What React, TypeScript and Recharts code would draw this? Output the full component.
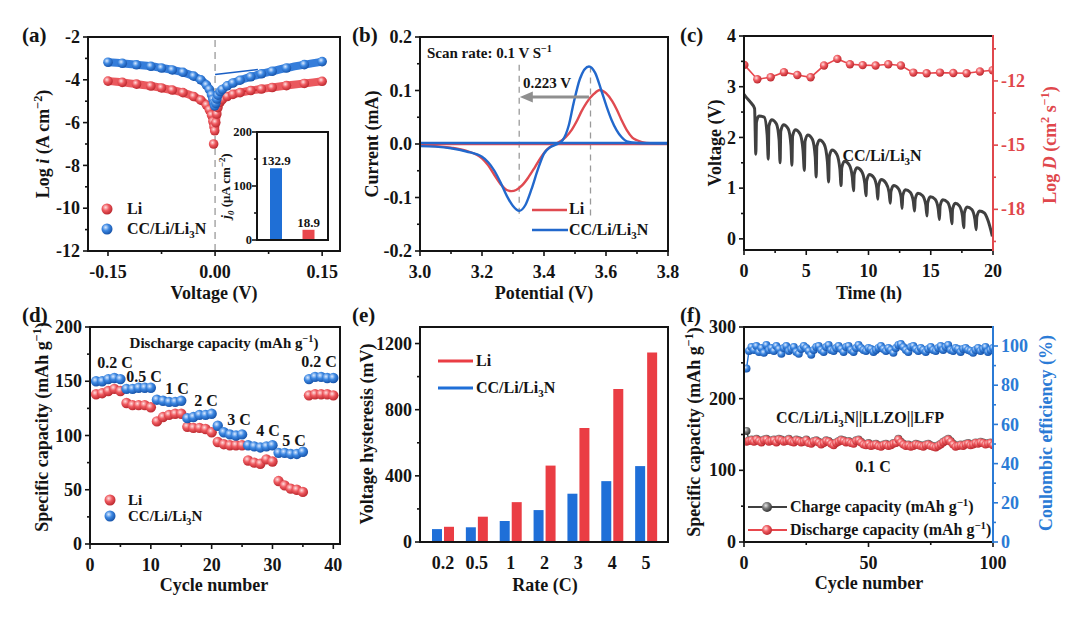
import React from 'react';
import { ComposedChart, BarChart, Bar, Cell, Line, Scatter, XAxis, YAxis, ReferenceLine, LabelList } from 'recharts';

const FONT = "'Liberation Serif','Times New Roman',Times,serif";
const AX = '#141414';
const RED = '#e8474d';
const BLUE = '#1f6fd6';
const CV_RED = '#e04a50';
const CV_BLUE = '#2268cc';
const GRAY = '#404040';
const RED_AX = '#e0474c';
const BLUE_AX = '#2b7bd6';
const TFS = 18;

// ---------------- data ----------------
// (a) Tafel plots [V, log i]
const tafelLi = [[-0.15,-4.06],[-0.13,-4.12],[-0.11,-4.2],[-0.09,-4.29],[-0.075,-4.38],[-0.06,-4.48],[-0.045,-4.6],[-0.03,-4.78],[-0.02,-4.95],[-0.012,-5.18],[-0.008,-5.4],[-0.005,-5.65],[-0.003,-5.95],[-0.0015,-6.2],[-0.0005,-6.38],[0.001,-6.0],[0.0025,-5.6],[0.004,-5.3],[0.007,-5.05],[0.01,-4.93],[0.017,-4.78],[0.025,-4.68],[0.035,-4.6],[0.05,-4.5],[0.065,-4.43],[0.08,-4.36],[0.1,-4.27],[0.125,-4.17],[0.15,-4.07]];
const tafelLiOutlier = [[-0.002,-7.0]];
const tafelCC = [[-0.15,-3.18],[-0.13,-3.23],[-0.11,-3.3],[-0.09,-3.37],[-0.075,-3.45],[-0.06,-3.54],[-0.045,-3.65],[-0.03,-3.83],[-0.02,-4.0],[-0.012,-4.25],[-0.008,-4.45],[-0.005,-4.7],[-0.003,-4.92],[-0.0015,-5.1],[-0.0005,-5.22],[0.001,-5.1],[0.0025,-4.9],[0.004,-4.72],[0.007,-4.55],[0.01,-4.45],[0.017,-4.28],[0.025,-4.15],[0.035,-4.02],[0.05,-3.86],[0.065,-3.72],[0.08,-3.6],[0.1,-3.45],[0.125,-3.29],[0.15,-3.15]];
const tafelFitLi = [[0,-4.68],[0.06,-4.47]];
const tafelFitCC = [[0,-3.75],[0.06,-3.52]];
const aXTicks = [-0.15,-0.075,0,0.075,0.15];
const aXLabels = ['-0.15','','0.00','','0.15'];
const aYTicks = [-12,-11,-10,-9,-8,-7,-6,-5,-4,-3,-2];
const aYLabels = ['-12','','-10','','-8','','-6','','-4','','-2'];
// (a) inset: exchange current density
const j0Names = ['CC/Li/Li3N','Li'];
const j0Values = [132.9, 18.9];
const insetTicks = [0,50,100,150,200];
const insetLabels = ['0','','100','','200'];

// (b) CV curves [V, mA]
const cvLi = [[3.0,-0.003],[3.05,-0.004],[3.1,-0.007],[3.15,-0.013],[3.2,-0.027],[3.22,-0.04],[3.24,-0.058],[3.26,-0.075],[3.28,-0.086],[3.295,-0.088],[3.31,-0.086],[3.33,-0.077],[3.35,-0.062],[3.37,-0.044],[3.39,-0.025],[3.41,-0.01],[3.43,-0.002],[3.45,0.004],[3.47,0.013],[3.49,0.027],[3.505,0.042],[3.52,0.06],[3.537,0.077],[3.56,0.093],[3.58,0.101],[3.6,0.095],[3.62,0.08],[3.635,0.064],[3.65,0.045],[3.667,0.026],[3.685,0.012],[3.7,0.007],[3.73,0.002],[3.8,0.001]];
const cvCC = [[3.0,-0.004],[3.05,-0.005],[3.1,-0.008],[3.15,-0.014],[3.2,-0.024],[3.22,-0.034],[3.24,-0.05],[3.26,-0.072],[3.28,-0.097],[3.3,-0.116],[3.32,-0.125],[3.34,-0.114],[3.36,-0.084],[3.38,-0.048],[3.4,-0.018],[3.42,-0.006],[3.44,-0.001],[3.46,0.007],[3.48,0.035],[3.495,0.075],[3.516,0.122],[3.545,0.145],[3.565,0.133],[3.585,0.1],[3.602,0.07],[3.618,0.045],[3.634,0.026],[3.65,0.013],[3.667,0.005],[3.7,0.002],[3.8,0.001]];
const cvBaseLi = [[3.0,0.0],[3.8,0.0]];
const cvBaseCC = [[3.0,0.002],[3.8,0.002]];
const bXTicks = [3.0,3.1,3.2,3.3,3.4,3.5,3.6,3.7,3.8];
const bXLabels = ['3.0','','3.2','','3.4','','3.6','','3.8'];
const bYTicks = [-0.2,-0.15,-0.1,-0.05,0,0.05,0.1,0.15,0.2];
const bYLabels = ['-0.2','','-0.1','','0.0','','0.1','','0.2'];

// (c) GITT voltage [h, V] and log D [h, log D]
const gittV = [[0,2.85],[0.15,2.8],[0.5,2.7],[0.85,2.57],
[0.95,1.67],[1.0,2.3],[1.2,2.42],[1.62,2.4],[1.86,2.05],
[1.95,1.57],[2.0,2.22],[2.22,2.35],[2.6,2.27],[2.82,1.95],
[2.9,1.5],[2.95,2.12],[3.17,2.25],[3.55,2.17],[3.77,1.85],
[3.85,1.45],[3.9,2.02],[4.12,2.15],[4.5,2.07],[4.74,1.75],
[4.85,1.35],[4.9,1.92],[5.12,2.05],[5.5,1.96],[5.72,1.62],
[5.8,1.22],[5.85,1.82],[6.07,1.95],[6.45,1.86],[6.7,1.52],
[6.8,1.12],[6.85,1.62],[7.07,1.75],[7.45,1.67],[7.7,1.38],
[7.8,1.05],[7.85,1.4],[8.07,1.53],[8.45,1.46],[8.7,1.22],
[8.8,0.95],[8.85,1.27],[9.07,1.4],[9.45,1.33],[9.7,1.1],
[9.8,0.85],[9.85,1.14],[10.07,1.27],[10.45,1.2],[10.67,1.0],
[10.75,0.78],[10.8,1.04],[11.02,1.17],[11.4,1.1],[11.65,0.92],
[11.75,0.7],[11.8,0.93],[12.02,1.05],[12.4,0.99],[12.62,0.82],
[12.7,0.6],[12.75,0.85],[12.97,0.97],[13.35,0.92],[13.6,0.74],
[13.7,0.55],[13.75,0.78],[13.97,0.9],[14.35,0.85],[14.6,0.67],
[14.7,0.45],[14.75,0.71],[14.97,0.83],[15.35,0.78],[15.6,0.59],
[15.7,0.38],[15.75,0.65],[15.97,0.77],[16.35,0.72],[16.6,0.52],
[16.7,0.3],[16.75,0.58],[16.97,0.7],[17.3,0.65],[17.55,0.45],
[17.65,0.22],[17.7,0.51],[17.92,0.63],[18.3,0.58],[18.55,0.38],
[18.65,0.18],[18.7,0.43],[18.92,0.55],[19.3,0.51],[19.6,0.36],[19.95,0.05]];
const gittLogD = [[0.03,-11.25],[1.07,-11.92],[2.14,-11.83],[3.21,-11.59],[4.28,-11.72],[5.35,-11.83],[6.43,-11.28],[7.5,-10.97],[8.51,-11.22],[9.53,-11.26],[10.57,-11.28],[11.59,-11.22],[12.6,-11.28],[13.6,-11.61],[14.67,-11.64],[15.74,-11.61],[16.81,-11.63],[17.88,-11.64],[18.95,-11.56],[19.97,-11.5]];
const cXTicks = [0,2.5,5,7.5,10,12.5,15,17.5,20];
const cXLabels = ['0','','5','','10','','15','','20'];
const cYTicks = [0,0.5,1,1.5,2,2.5,3,3.5,4];
const cYLabels = ['0','','1','','2','','3','','4'];
const cY2Ticks = [-19.5,-18,-16.5,-15,-13.5,-12,-10.5];
const cY2Labels = ['','-18','','-15','','-12',''];

// (d) rate capability (cycle 1-40)
const rateCycles = [1,2,3,4,5,6,7,8,9,10,11,12,13,14,15,16,17,18,19,20,21,22,23,24,25,26,27,28,29,30,31,32,33,34,35,36,37,38,39,40];
const rateLi = [138,139,141,143,141,130,128,128,128,126,113,117,119,120,120,108,107,107,106,103,94,92,91,91,91,77,75,74,78,76,58,54,51,50,48,137,138,138,138,137];
const rateCC = [150,150,152,153,152,143,143,144,144,144,133,132,131,131,132,116,117,119,119,120,109,103,101,100,101,91,90,89,90,91,84,84,83,83,85,152,154,154,153,153];
const rateLabels = ['0.2 C','0.5 C','1 C','2 C','3 C','4 C','5 C','0.2 C'];
const dXTicks = [0,5,10,15,20,25,30,35,40];
const dXLabels = ['0','','10','','20','','30','','40'];
const dYTicks = [0,25,50,75,100,125,150,175,200];
const dYLabels = ['0','','50','','100','','150','','200'];

// (e) voltage hysteresis (mV)
const rates = ['0.2','0.5','1','2','3','4','5'];
const hystCC = [78,89,127,193,292,368,459];
const hystLi = [92,153,241,462,689,925,1146];
const eYTicks = [0,200,400,600,800,1000,1200];
const eYLabels = ['0','','400','','800','','1200'];

// (f) long cycling 0.1 C (cycle 1-100)
const chargeCap = [155,142,143,141,144,142,140,143,144,141,142,143,140,144,143,141,142,144,141,140,143,142,140,141,143,139,138,141,142,140,137,139,142,141,138,136,139,141,143,142,140,141,139,138,142,143,140,137,136,138,135,136,137,135,134,136,137,135,136,138,139,144,140,137,135,136,134,135,137,136,135,134,136,137,135,134,133,135,137,140,142,144,141,137,134,135,136,135,137,138,136,137,139,138,140,139,137,138,139,136];
const dischargeCap = [140,141,142,140,143,141,139,142,143,140,141,142,139,143,142,140,141,143,140,139,142,141,139,140,142,138,137,140,141,139,136,138,141,140,137,135,138,140,142,141,139,140,138,137,141,142,139,136,135,137,134,135,136,134,133,135,136,134,135,137,138,143,139,136,134,135,133,134,136,135,134,133,135,136,134,133,132,134,136,139,141,143,140,136,133,134,135,134,136,137,135,136,138,137,139,138,136,137,138,135];
const coulombicEff = [88.5,97.5,99.5,98,100,97,99,96.5,100.5,98,99,97.5,100,98.5,96,99,100,97.5,98.5,99.5,97,96,98.5,100,99,97.5,95.5,98,99.5,100,98,97,99.5,100.5,98,97.5,99,100,98.5,97,99.5,100,98,97,99,100.5,99,98,97.5,99,98.5,97,98,99,100,98.5,97.5,99,98,96.5,99,100.5,101,99.5,98,97,99.5,100,98.5,97.5,99,98,97,98.5,99.5,98,97.5,99,100,98,99.5,100.5,98,97.5,99,98.5,97,98.5,99,98,97.5,96.5,98,99,97.5,98.5,99.5,97,98,99];
const fXTicks = [0,25,50,75,100];
const fXLabels = ['0','','50','','100'];
const fYTicks = [0,50,100,150,200,250,300];
const fYLabels = ['0','','100','','200','','300'];
const fY2Ticks = [0,10,20,30,40,50,60,70,80,90,100];
const fY2Labels = ['0','','20','','40','','60','','80','','100'];

// ---------------- helpers ----------------
const xy = (arr: number[][]) => arr.map(([x, y]) => ({ x, y }));

type Rc = { L: number; T: number; R: number; B: number };
const RA: Rc = { L: 88, T: 37, R: 340, B: 251 };
const RI: Rc = { L: 257, T: 132, R: 328, B: 240 };
const RB: Rc = { L: 420, T: 37, R: 668, B: 251 };
const RC: Rc = { L: 744, T: 36, R: 993, B: 250 };
const RD: Rc = { L: 90, T: 327, R: 340, B: 544 };
const RE: Rc = { L: 420, T: 327, R: 668, B: 542 };
const RF: Rc = { L: 744, T: 327, R: 993, B: 542 };

const LS = 60, TS = 10, BS = 40, RS = 12, RAX = 60;

function place(r: Rc, rightAxis: boolean) {
  const right = rightAxis ? RAX : RS;
  return {
    style: { position: 'absolute' as const, left: r.L - LS, top: r.T - TS },
    width: LS + (r.R - r.L) + right,
    height: TS + (r.B - r.T) + BS,
    margin: { top: TS, right: rightAxis ? 0 : RS, bottom: 0, left: 0 },
  };
}

function makeTick(side: string, ticks: number[] | null, labels: string[] | null, color = AX, fs = TFS, noLine = false, gap = 8) {
  return (p: any) => {
    const { x, y, payload } = p;
    let lab = String(payload.value);
    if (ticks && labels) {
      const i = ticks.findIndex((t) => Math.abs(t - Number(payload.value)) < 1e-6);
      lab = i >= 0 ? labels[i] : '';
    }
    const major = lab !== '';
    const len = major ? 5 : 3;
    const tp = { fontFamily: FONT, fontWeight: 700, fontSize: fs, fill: color };
    if (side === 'left') {
      return (
        <g>
          {!noLine && <line x1={x} y1={y} x2={x - len} y2={y} stroke={color} strokeWidth={1.6} />}
          {major && <text x={x - gap} y={y + fs * 0.34} textAnchor="end" {...tp}>{lab}</text>}
        </g>
      );
    }
    if (side === 'right') {
      return (
        <g>
          {!noLine && <line x1={x} y1={y} x2={x + len} y2={y} stroke={color} strokeWidth={1.6} />}
          {major && <text x={x + gap} y={y + fs * 0.34} textAnchor="start" {...tp}>{lab}</text>}
        </g>
      );
    }
    return (
      <g>
        {!noLine && <line x1={x} y1={y} x2={x} y2={y + len} stroke={color} strokeWidth={1.6} />}
        {major && <text x={x} y={y + 21 + fs * 0.34} textAnchor="middle" {...tp}>{lab}</text>}
      </g>
    );
  };
}

const sphereDot = (grad: string, r: number) => (p: any) => {
  if (p.cx == null || p.cy == null) return <g key={p.index} />;
  return <circle key={`d${p.index}`} cx={p.cx} cy={p.cy} r={r} fill={`url(#${grad})`} />;
};
const sphereShape = (grad: string, r: number) => (p: any) => <circle cx={p.cx} cy={p.cy} r={r} fill={`url(#${grad})`} />;

const arrowShape = (p: any) => {
  const { x1, y1, x2, y2 } = p;
  const hx = Math.min(x1, x2);
  const tx = Math.max(x1, x2);
  const y = (y1 + y2) / 2;
  const c = '#8f8f8f';
  return (
    <g>
      <line x1={tx} y1={y} x2={hx + 10} y2={y} stroke={c} strokeWidth={3} />
      <polygon points={`${hx},${y} ${hx + 13},${y - 5.5} ${hx + 13},${y + 5.5}`} fill={c} />
    </g>
  );
};

type Seg = { t: string; sub?: boolean; sup?: boolean; it?: boolean };
const n = (t: string): Seg => ({ t });
const sb = (t: string, itl = false): Seg => ({ t, sub: true, it: itl });
const sp = (t: string): Seg => ({ t, sup: true });
const it = (t: string): Seg => ({ t, it: true });

function Rich({ x, y, segs, size, anchor = 'start', rot = 0, fill = AX }: any) {
  const off = (lv: number) => (lv === 1 ? 0.24 * size : lv === -1 ? -0.4 * size : 0);
  let level = 0;
  const parts = segs.map((s: Seg, i: number) => {
    const target = s.sub ? 1 : s.sup ? -1 : 0;
    const dy = off(target) - off(level);
    level = target;
    return (
      <tspan key={i} dy={dy} fontSize={target ? size * 0.68 : size} fontStyle={s.it ? 'italic' : 'normal'}>
        {s.t}
      </tspan>
    );
  });
  return (
    <text transform={`translate(${x},${y}) rotate(${rot})`} x={0} y={size * 0.34} textAnchor={anchor}
      fontFamily={FONT} fontWeight={700} fontSize={size} fill={fill}>
      {parts}
    </text>
  );
}

const LI3N = [n('CC/Li/Li'), sb('3'), n('N')];
const CAP = [n('Specific capacity (mAh g'), sp('−1'), n(')')];

const axisLine = (c = AX) => ({ stroke: c, strokeWidth: 2 });

// ---------------- panels ----------------
function PanelA() {
  const g = place(RA, false);
  return (
    <div style={g.style}>
      <ComposedChart width={g.width} height={g.height} margin={g.margin}>
        <XAxis type="number" dataKey="x" domain={[-0.178, 0.175]} allowDataOverflow ticks={aXTicks} interval={0}
          tick={makeTick('bottom', aXTicks, aXLabels)} tickSize={0} tickMargin={0} tickLine={false}
          axisLine={axisLine()} height={BS} />
        <YAxis type="number" dataKey="y" domain={[-12, -2]} allowDataOverflow ticks={aYTicks} interval={0}
          tick={makeTick('left', aYTicks, aYLabels)} tickSize={0} tickMargin={0} tickLine={false}
          axisLine={axisLine()} width={LS} />
        <ReferenceLine x={0} stroke="#9a9a9a" strokeWidth={1.3} strokeDasharray="7 5" />
        <Line data={xy(tafelLi)} dataKey="y" type="monotone" stroke={RED} strokeWidth={8} strokeOpacity={0.9}
          dot={sphereDot('gRed', 4.8)} activeDot={false} isAnimationActive={false} />
        <Line data={xy(tafelCC)} dataKey="y" type="monotone" stroke={BLUE} strokeWidth={8} strokeOpacity={0.9}
          dot={sphereDot('gBlue', 4.8)} activeDot={false} isAnimationActive={false} />
        <Scatter data={xy(tafelLiOutlier)} dataKey="y" shape={sphereShape('gRed', 4.8)} isAnimationActive={false} />
        <Line data={xy(tafelFitLi)} dataKey="y" type="linear" stroke="#d8262e" strokeWidth={1.6} dot={false}
          activeDot={false} isAnimationActive={false} />
        <Line data={xy(tafelFitCC)} dataKey="y" type="linear" stroke="#1a5fc4" strokeWidth={1.6} dot={false}
          activeDot={false} isAnimationActive={false} />
      </ComposedChart>
    </div>
  );
}

function Inset() {
  const IL = 30, IT = 8, IB = 12;
  const data = j0Names.map((name, i) => ({ name, v: j0Values[i] }));
  return (
    <div style={{ position: 'absolute', left: RI.L - IL, top: RI.T - IT }}>
      <BarChart width={IL + RI.R - RI.L + 2} height={IT + RI.B - RI.T + IB} data={data}
        margin={{ top: IT, right: 2, bottom: IB, left: 0 }} barSize={12}>
        <XAxis dataKey="name" type="category" hide padding={{ left: 3, right: 3 }} />
        <YAxis type="number" domain={[0, 200]} ticks={insetTicks} interval={0} width={IL}
          tick={makeTick('left', insetTicks, insetLabels, AX, 12.5, false, 5)} tickSize={0} tickMargin={0}
          tickLine={false} axisLine={axisLine()} />
        <Bar dataKey="v" isAnimationActive={false}>
          <Cell fill={BLUE} />
          <Cell fill={RED} />
          <LabelList dataKey="v" position="top" offset={3} formatter={(v: any) => Number(v).toFixed(1)}
            style={{ fontFamily: FONT, fontWeight: 700, fontSize: 13, fill: AX }} />
        </Bar>
      </BarChart>
    </div>
  );
}

function PanelB() {
  const g = place(RB, false);
  return (
    <div style={g.style}>
      <ComposedChart width={g.width} height={g.height} margin={g.margin}>
        <XAxis type="number" dataKey="x" domain={[3.0, 3.8]} allowDataOverflow ticks={bXTicks} interval={0}
          tick={makeTick('bottom', bXTicks, bXLabels)} tickSize={0} tickMargin={0} tickLine={false}
          axisLine={axisLine()} height={BS} />
        <YAxis type="number" dataKey="y" domain={[-0.2, 0.2]} allowDataOverflow ticks={bYTicks} interval={0}
          tick={makeTick('left', bYTicks, bYLabels)} tickSize={0} tickMargin={0} tickLine={false}
          axisLine={axisLine()} width={LS} />
        <ReferenceLine segment={[{ x: 3.32, y: 0.148 }, { x: 3.32, y: -0.14 }]} stroke="#9a9a9a" strokeWidth={1.3} strokeDasharray="6 5" />
        <ReferenceLine segment={[{ x: 3.55, y: 0.145 }, { x: 3.55, y: -0.14 }]} stroke="#9a9a9a" strokeWidth={1.3} strokeDasharray="6 5" />
        <Line data={xy(cvBaseLi)} dataKey="y" type="linear" stroke={CV_RED} strokeWidth={2.4} dot={false} activeDot={false} isAnimationActive={false} />
        <Line data={xy(cvLi)} dataKey="y" type="monotone" stroke={CV_RED} strokeWidth={2.4} dot={false} activeDot={false} isAnimationActive={false} />
        <Line data={xy(cvCC)} dataKey="y" type="monotone" stroke={CV_BLUE} strokeWidth={2.4} dot={false} activeDot={false} isAnimationActive={false} />
        <Line data={xy(cvBaseCC)} dataKey="y" type="linear" stroke={CV_BLUE} strokeWidth={2.4} dot={false} activeDot={false} isAnimationActive={false} />
        <ReferenceLine segment={[{ x: 3.545, y: 0.088 }, { x: 3.322, y: 0.088 }]} shape={arrowShape} />
      </ComposedChart>
    </div>
  );
}

function PanelC() {
  const g = place(RC, true);
  return (
    <div style={g.style}>
      <ComposedChart width={g.width} height={g.height} margin={g.margin}>
        <XAxis type="number" dataKey="x" domain={[0, 20]} allowDataOverflow ticks={cXTicks} interval={0}
          tick={makeTick('bottom', cXTicks, cXLabels)} tickSize={0} tickMargin={0} tickLine={false}
          axisLine={axisLine()} height={BS} />
        <YAxis yAxisId="v" type="number" dataKey="y" domain={[-0.22, 4]} allowDataOverflow ticks={cYTicks} interval={0}
          tick={makeTick('left', cYTicks, cYLabels)} tickSize={0} tickMargin={0} tickLine={false}
          axisLine={axisLine()} width={LS} />
        <YAxis yAxisId="d" orientation="right" type="number" dataKey="y" domain={[-19.9, -9.9]} allowDataOverflow
          ticks={cY2Ticks} interval={0} tick={makeTick('right', cY2Ticks, cY2Labels, RED_AX)} tickSize={0}
          tickMargin={0} tickLine={false} axisLine={axisLine(RED_AX)} width={RAX} />
        <Line yAxisId="v" data={xy(gittV)} dataKey="y" type="monotone" stroke={GRAY} strokeWidth={3} dot={false}
          activeDot={false} isAnimationActive={false} />
        <Line yAxisId="d" data={xy(gittLogD)} dataKey="y" type="linear" stroke={RED} strokeWidth={1.6}
          dot={sphereDot('gRed', 4.2)} activeDot={false} isAnimationActive={false} />
      </ComposedChart>
    </div>
  );
}

function PanelD() {
  const g = place(RD, false);
  const li = rateCycles.map((c, i) => ({ x: c, y: rateLi[i] }));
  const cc = rateCycles.map((c, i) => ({ x: c, y: rateCC[i] }));
  return (
    <div style={g.style}>
      <ComposedChart width={g.width} height={g.height} margin={g.margin}>
        <XAxis type="number" dataKey="x" domain={[0, 41.1]} allowDataOverflow ticks={dXTicks} interval={0}
          tick={makeTick('bottom', dXTicks, dXLabels)} tickSize={0} tickMargin={0} tickLine={false}
          axisLine={axisLine()} height={BS} />
        <YAxis type="number" dataKey="y" domain={[0, 200]} allowDataOverflow ticks={dYTicks} interval={0}
          tick={makeTick('left', dYTicks, dYLabels)} tickSize={0} tickMargin={0} tickLine={false}
          axisLine={axisLine()} width={LS} />
        <Scatter data={li} dataKey="y" shape={sphereShape('gRed', 5.2)} isAnimationActive={false} />
        <Scatter data={cc} dataKey="y" shape={sphereShape('gBlue', 5.2)} isAnimationActive={false} />
      </ComposedChart>
    </div>
  );
}

function PanelE() {
  const g = place(RE, false);
  const data = rates.map((r, i) => ({ rate: r, cc: hystCC[i], li: hystLi[i] }));
  return (
    <div style={g.style}>
      <BarChart width={g.width} height={g.height} margin={g.margin} data={data} barSize={10} barGap={2}>
        <XAxis dataKey="rate" type="category" padding={{ left: 6, right: 5 }} interval={0}
          tick={makeTick('bottom', null, null, AX, TFS, true)} tickSize={0} tickMargin={0} tickLine={false}
          axisLine={axisLine()} height={BS} />
        <YAxis type="number" domain={[0, 1300]} allowDataOverflow ticks={eYTicks} interval={0}
          tick={makeTick('left', eYTicks, eYLabels)} tickSize={0} tickMargin={0} tickLine={false}
          axisLine={axisLine()} width={LS} />
        <Bar dataKey="cc" fill="#1f6fd8" isAnimationActive={false} />
        <Bar dataKey="li" fill="#ea3d44" isAnimationActive={false} />
      </BarChart>
    </div>
  );
}

function PanelF() {
  const g = place(RF, true);
  const ch = chargeCap.map((v, i) => ({ x: i + 1, y: v }));
  const dis = dischargeCap.map((v, i) => ({ x: i + 1, y: v }));
  const ce = coulombicEff.map((v, i) => ({ x: i + 1, y: v }));
  return (
    <div style={g.style}>
      <ComposedChart width={g.width} height={g.height} margin={g.margin}>
        <XAxis type="number" dataKey="x" domain={[0, 100]} allowDataOverflow ticks={fXTicks} interval={0}
          tick={makeTick('bottom', fXTicks, fXLabels)} tickSize={0} tickMargin={0} tickLine={false}
          axisLine={axisLine()} height={BS} />
        <YAxis yAxisId="c" type="number" dataKey="y" domain={[0, 300]} allowDataOverflow ticks={fYTicks} interval={0}
          tick={makeTick('left', fYTicks, fYLabels)} tickSize={0} tickMargin={0} tickLine={false}
          axisLine={axisLine()} width={LS} />
        <YAxis yAxisId="e" orientation="right" type="number" dataKey="y" domain={[0, 109.7]} allowDataOverflow
          ticks={fY2Ticks} interval={0} tick={makeTick('right', fY2Ticks, fY2Labels, BLUE_AX)} tickSize={0}
          tickMargin={0} tickLine={false} axisLine={axisLine(BLUE_AX)} width={RAX} />
        <Line yAxisId="c" data={ch} dataKey="y" type="linear" stroke={GRAY} strokeWidth={1.4}
          dot={sphereDot('gGray', 4)} activeDot={false} isAnimationActive={false} />
        <Line yAxisId="c" data={dis} dataKey="y" type="linear" stroke={RED} strokeWidth={1.4}
          dot={sphereDot('gRed', 4)} activeDot={false} isAnimationActive={false} />
        <Line yAxisId="e" data={ce} dataKey="y" type="linear" stroke={BLUE} strokeWidth={1.4}
          dot={sphereDot('gBlue', 4)} activeDot={false} isAnimationActive={false} />
      </ComposedChart>
    </div>
  );
}

function Frame({ r, right = AX }: { r: Rc; right?: string }) {
  return (
    <g strokeWidth={2} strokeLinecap="square">
      <line x1={r.L} y1={r.T} x2={r.R} y2={r.T} stroke={AX} />
      <line x1={r.L} y1={r.T} x2={r.L} y2={r.B} stroke={AX} />
      <line x1={r.L} y1={r.B} x2={r.R} y2={r.B} stroke={AX} />
      <line x1={r.R} y1={r.T} x2={r.R} y2={r.B} stroke={right} />
    </g>
  );
}

function Overlay() {
  const ball = (cx: number, cy: number, g: string, r = 5.5) => <circle cx={cx} cy={cy} r={r} fill={`url(#${g})`} />;
  return (
    <svg width={1080} height={623} style={{ position: 'absolute', left: 0, top: 0, pointerEvents: 'none' }}>
      <Frame r={RA} />
      <Frame r={RI} />
      <Frame r={RB} />
      <Frame r={RC} right={RED_AX} />
      <Frame r={RD} />
      <Frame r={RE} />
      <Frame r={RF} right={BLUE_AX} />

      {/* panel letters */}
      <Rich x={22} y={35} segs={[n('(a)')]} size={21} />
      <Rich x={352} y={35} segs={[n('(b)')]} size={21} />
      <Rich x={680} y={35} segs={[n('(c)')]} size={21} />
      <Rich x={22} y={315} segs={[n('(d)')]} size={21} />
      <Rich x={352} y={315} segs={[n('(e)')]} size={21} />
      <Rich x={680} y={315} segs={[n('(f)')]} size={21} />

      {/* axis titles */}
      <Rich x={43} y={144} rot={-90} anchor="middle" size={18} segs={[n('Log '), it('i'), n(' (A cm'), sp('−2'), n(')')]} />
      <Rich x={214} y={293} anchor="middle" size={18} segs={[n('Voltage (V)')]} />
      <Rich x={226} y={186} rot={-90} anchor="middle" size={13} segs={[it('j'), sb('0', true), n(' (μA cm'), sp('−2'), n(')')]} />
      <Rich x={372} y={144} rot={-90} anchor="middle" size={18} segs={[n('Current (mA)')]} />
      <Rich x={544} y={293} anchor="middle" size={18} segs={[n('Potential (V)')]} />
      <Rich x={715} y={143} rot={-90} anchor="middle" size={18} segs={[n('Voltage (V)')]} />
      <Rich x={1050} y={145} rot={-90} anchor="middle" size={18} fill={RED_AX}
        segs={[n('Log '), it('D'), n(' (cm'), sp('2'), n(' s'), sp('−1'), n(')')]} />
      <Rich x={869} y={293} anchor="middle" size={18} segs={[n('Time (h)')]} />
      <Rich x={42} y={427} rot={-90} anchor="middle" size={18} segs={CAP} />
      <Rich x={214} y={585} anchor="middle" size={18} segs={[n('Cycle number')]} />
      <Rich x={367} y={434} rot={-90} anchor="middle" size={18} segs={[n('Voltage hysteresis (mV)')]} />
      <Rich x={545} y={585} anchor="middle" size={18} segs={[n('Rate (C)')]} />
      <Rich x={694} y={432} rot={-90} anchor="middle" size={18} segs={CAP} />
      <Rich x={1046} y={433} rot={-90} anchor="middle" size={18} fill={BLUE_AX} segs={[n('Coulombic efficiency (%)')]} />
      <Rich x={869} y={583} anchor="middle" size={18} segs={[n('Cycle number')]} />

      {/* (a) legend */}
      {ball(107, 209, 'gRed')}
      <Rich x={127} y={209} size={16} segs={[n('Li')]} />
      {ball(107, 229, 'gBlue')}
      <Rich x={127} y={229} size={16} segs={LI3N} />

      {/* (b) annotations + legend */}
      <Rich x={427} y={53} size={15} segs={[n('Scan rate: 0.1 V S'), sp('−1')]} />
      <Rich x={547} y={83} anchor="middle" size={15} segs={[n('0.223 V')]} />
      <line x1={532} y1={210} x2={567} y2={210} stroke={CV_RED} strokeWidth={2.4} />
      <Rich x={569} y={209} size={16} segs={[n('Li')]} />
      <line x1={532} y1={230} x2={568} y2={230} stroke={CV_BLUE} strokeWidth={2.4} />
      <Rich x={569} y={230} size={16} segs={LI3N} />

      {/* (c) */}
      <Rich x={882} y={156} anchor="middle" size={16} segs={LI3N} />

      {/* (d) */}
      <Rich x={224} y={343} anchor="middle" size={15} segs={[n('Discharge capacity (mAh g'), sp('−1'), n(')')]} />
      <Rich x={115} y={363} anchor="middle" size={16} segs={[n(rateLabels[0])]} />
      <Rich x={144} y={377} anchor="middle" size={16} segs={[n(rateLabels[1])]} />
      <Rich x={177} y={389} anchor="middle" size={16} segs={[n(rateLabels[2])]} />
      <Rich x={206} y={401} anchor="middle" size={16} segs={[n(rateLabels[3])]} />
      <Rich x={239} y={420} anchor="middle" size={16} segs={[n(rateLabels[4])]} />
      <Rich x={268} y={431} anchor="middle" size={16} segs={[n(rateLabels[5])]} />
      <Rich x={294} y={441} anchor="middle" size={16} segs={[n(rateLabels[6])]} />
      <Rich x={319} y={362} anchor="middle" size={16} segs={[n(rateLabels[7])]} />
      {ball(110, 500, 'gRed')}
      <Rich x={128} y={500} size={15} segs={[n('Li')]} />
      {ball(110, 516, 'gBlue')}
      <Rich x={128} y={516} size={15} segs={LI3N} />

      {/* (e) legend */}
      <line x1={438} y1={361} x2={473} y2={361} stroke="#ea3d44" strokeWidth={3} />
      <Rich x={476} y={361} size={16} segs={[n('Li')]} />
      <line x1={438} y1={388} x2={473} y2={388} stroke="#1f6fd8" strokeWidth={3} />
      <Rich x={476} y={388} size={16} segs={LI3N} />

      {/* (f) */}
      <Rich x={860} y={418} anchor="middle" size={16} segs={[n('CC/Li/Li'), sb('3'), n('N||LLZO||LFP')]} />
      <Rich x={873} y={467} anchor="middle" size={16} segs={[n('0.1 C')]} />
      <line x1={748} y1={507} x2={787} y2={507} stroke={GRAY} strokeWidth={1.8} />
      {ball(767, 507, 'gGray', 5)}
      <Rich x={790} y={507} size={16} segs={[n('Charge capacity (mAh g'), sp('−1'), n(')')]} />
      <line x1={748} y1={530} x2={787} y2={530} stroke={RED} strokeWidth={1.8} />
      {ball(767, 530, 'gRed', 5)}
      <Rich x={790} y={530} size={16} segs={[n('Discharge capacity (mAh g'), sp('−1'), n(')')]} />
    </svg>
  );
}

function Defs() {
  const grad = (id: string, a: string, b: string, c: string) => (
    <radialGradient id={id} cx="0.38" cy="0.35" r="0.68">
      <stop offset="0" stopColor={a} />
      <stop offset="0.45" stopColor={b} />
      <stop offset="1" stopColor={c} />
    </radialGradient>
  );
  return (
    <svg width={0} height={0} style={{ position: 'absolute' }}>
      <defs>
        {grad('gRed', '#ffe0e0', '#ef5a60', '#b8252b')}
        {grad('gBlue', '#dbeaff', '#3d88e2', '#1450a6')}
        {grad('gGray', '#e6e6e6', '#7a7a7a', '#2e2e2e')}
      </defs>
    </svg>
  );
}

export default function App() {
  return (
    <div style={{ position: 'absolute', left: 0, top: 0, width: 1080, height: 623, background: '#ffffff', overflow: 'hidden', fontFamily: FONT }}>
      <Defs />
      <PanelA />
      <Inset />
      <PanelB />
      <PanelC />
      <PanelD />
      <PanelE />
      <PanelF />
      <Overlay />
    </div>
  );
}
